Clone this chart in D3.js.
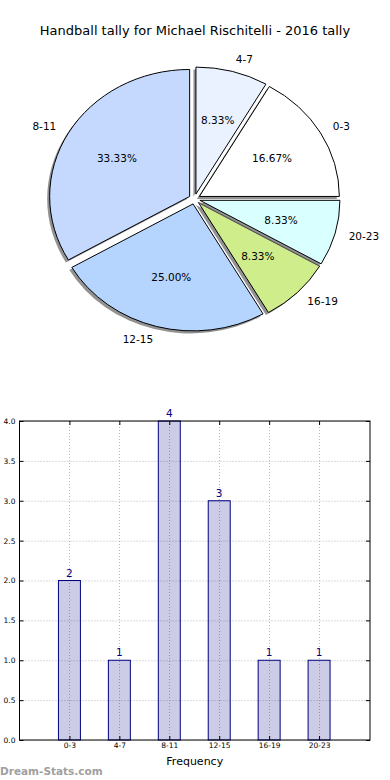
<!DOCTYPE html>
<html>
<head>
<meta charset="utf-8">
<script src="https://cdn.jsdelivr.net/npm/d3@7"></script>
<style>
  body { margin: 0; background: #fff; }
  svg { display: block; font-family: "DejaVu Sans", sans-serif; }
  .grid line { stroke: #b8b8b8; stroke-dasharray: 1,2; }
</style>
</head>
<body>
<div id="chart"></div>
<script>
// data
const categories = ["0-3", "4-7", "8-11", "12-15", "16-19", "20-23"];
const counts = [2, 1, 4, 3, 1, 1];
const sliceColors = ["#ffffff", "#eaf1ff", "#c5d9ff", "#b5d5ff", "#d0ed8c", "#d9ffff"];
const yTicks = [0, 0.5, 1, 1.5, 2, 2.5, 3, 3.5, 4];
const title = "Handball tally for Michael Rischitelli - 2016 tally";

const width = 390, height = 780;

const svg = d3.select("#chart")
  .append("svg")
  .attr("width", width)
  .attr("height", height);

svg.append("text")
  .attr("x", 195)
  .attr("y", 34.5)
  .attr("text-anchor", "middle")
  .attr("font-size", 13)
  .attr("fill", "#000")
  .text(title);

// ---- pie (matplotlib style: starts at 3 o'clock, goes counterclockwise, ellipse) ----
const cx = 194.5, cy = 199, rx = 140, ry = 127;
const explode = 0.04;

const pie = d3.pie()
  .sort(null)
  .startAngle(Math.PI / 2)
  .endAngle(Math.PI / 2 - 2 * Math.PI);

const arcs = pie(counts);
const total = d3.sum(counts);
const unitArc = d3.arc().innerRadius(0).outerRadius(1);

const pieG = svg.append("g");

arcs.forEach((a, i) => {
  const mid = (a.startAngle + a.endAngle) / 2;
  const ox = cx + explode * rx * Math.sin(mid);
  const oy = cy - explode * ry * Math.cos(mid);
  // arc drawn on unit circle; ensure start < end for d3.arc
  const d = unitArc({ startAngle: Math.min(a.startAngle, a.endAngle), endAngle: Math.max(a.startAngle, a.endAngle) });

  // shadow first, then the wedge (same order as matplotlib)
  pieG.append("path")
    .attr("d", d)
    .attr("transform", `translate(${ox - 2.5},${oy + 2.5}) scale(${rx},${ry})`)
    .attr("fill", "#6e6e6e")
    .attr("fill-opacity", 0.75);

  pieG.append("path")
    .attr("d", d)
    .attr("transform", `translate(${ox},${oy}) scale(${rx},${ry})`)
    .attr("fill", sliceColors[i])
    .attr("stroke", "#000")
    .attr("stroke-width", 1)
    .attr("vector-effect", "non-scaling-stroke");

  // category label outside
  const lx = ox + 1.1 * rx * Math.sin(mid);
  const ly = oy - 1.1 * ry * Math.cos(mid);
  pieG.append("text")
    .attr("x", lx)
    .attr("y", ly)
    .attr("dy", "0.35em")
    .attr("text-anchor", Math.sin(mid) > 0 ? "start" : "end")
    .attr("font-size", 10.5)
    .text(categories[i]);

  // percentage inside
  const px = ox + 0.6 * rx * Math.sin(mid);
  const py = oy - 0.6 * ry * Math.cos(mid);
  pieG.append("text")
    .attr("x", px)
    .attr("y", py)
    .attr("dy", "0.35em")
    .attr("text-anchor", "middle")
    .attr("font-size", 10.5)
    .text((a.value / total * 100).toFixed(2) + "%");
});

// ---- bar chart ----
const plotLeft = 19.5, plotRight = 370, plotTop = 421, plotBottom = 740;

const x = d3.scaleLinear().domain([-1, 6.02]).range([plotLeft, plotRight]);
const y = d3.scaleLinear().domain([0, 4]).range([plotBottom, plotTop]);

const grid = svg.append("g").attr("class", "grid");
grid.selectAll("line.h")
  .data(yTicks)
  .join("line")
  .attr("class", "h")
  .attr("x1", plotLeft).attr("x2", plotRight)
  .attr("y1", d => y(d) + 0.5).attr("y2", d => y(d) + 0.5);
grid.selectAll("line.v")
  .data(categories)
  .join("line")
  .attr("class", "v")
  .attr("x1", (d, i) => Math.round(x(i)) + 0.5).attr("x2", (d, i) => Math.round(x(i)) + 0.5)
  .attr("y1", plotTop).attr("y2", plotBottom);

const barW = x(0.44) - x(0);
svg.append("g")
  .selectAll("rect")
  .data(counts)
  .join("rect")
  .attr("x", (d, i) => x(i) - barW / 2)
  .attr("y", d => y(d))
  .attr("width", barW)
  .attr("height", d => plotBottom - y(d))
  .attr("fill", "#000080")
  .attr("fill-opacity", 0.2)
  .attr("stroke", "#000080")
  .attr("stroke-width", 1);

svg.append("g")
  .selectAll("text")
  .data(counts)
  .join("text")
  .attr("x", (d, i) => x(i))
  .attr("y", d => y(d) - 4)
  .attr("text-anchor", "middle")
  .attr("font-size", 10.5)
  .attr("fill", "#000080")
  .text(d => d);

// axes: ticks inside, on all four sides
const xAxis = d3.axisBottom(x)
  .tickValues(d3.range(categories.length))
  .tickFormat(i => categories[i])
  .tickSizeInner(-4).tickSizeOuter(0).tickPadding(3);
const gx = svg.append("g").attr("transform", `translate(0,${plotBottom})`).call(xAxis);
gx.select(".domain").remove();
gx.selectAll("text").attr("font-size", 7.5).attr("font-family", "DejaVu Sans");

const gxTop = svg.append("g").attr("transform", `translate(0,${plotTop})`)
  .call(d3.axisTop(x).tickValues(d3.range(categories.length)).tickFormat("").tickSizeInner(-4).tickSizeOuter(0));
gxTop.select(".domain").remove();

const yAxis = d3.axisLeft(y)
  .tickValues(yTicks)
  .tickFormat(d3.format(".1f"))
  .tickSizeInner(-4).tickSizeOuter(0).tickPadding(4);
const gy = svg.append("g").attr("transform", `translate(${plotLeft},0)`).call(yAxis);
gy.select(".domain").remove();
gy.selectAll("text").attr("font-size", 7.5).attr("font-family", "DejaVu Sans");

const gyRight = svg.append("g").attr("transform", `translate(${plotRight},0)`)
  .call(d3.axisRight(y).tickValues(yTicks).tickFormat("").tickSizeInner(-4).tickSizeOuter(0));
gyRight.select(".domain").remove();

svg.append("rect")
  .attr("x", plotLeft).attr("y", plotTop)
  .attr("width", plotRight - plotLeft).attr("height", plotBottom - plotTop)
  .attr("fill", "none")
  .attr("stroke", "#000")
  .attr("stroke-width", 1);

svg.append("text")
  .attr("x", (plotLeft + plotRight) / 2)
  .attr("y", 764.5)
  .attr("text-anchor", "middle")
  .attr("font-size", 11)
  .text("Frequency");

// watermark
svg.append("text")
  .attr("x", 0)
  .attr("y", 775)
  .attr("font-size", 10.5)
  .attr("font-weight", "bold")
  .attr("fill", "#a0a0a0")
  .text("Dream-Stats.com");
</script>
</body>
</html>
